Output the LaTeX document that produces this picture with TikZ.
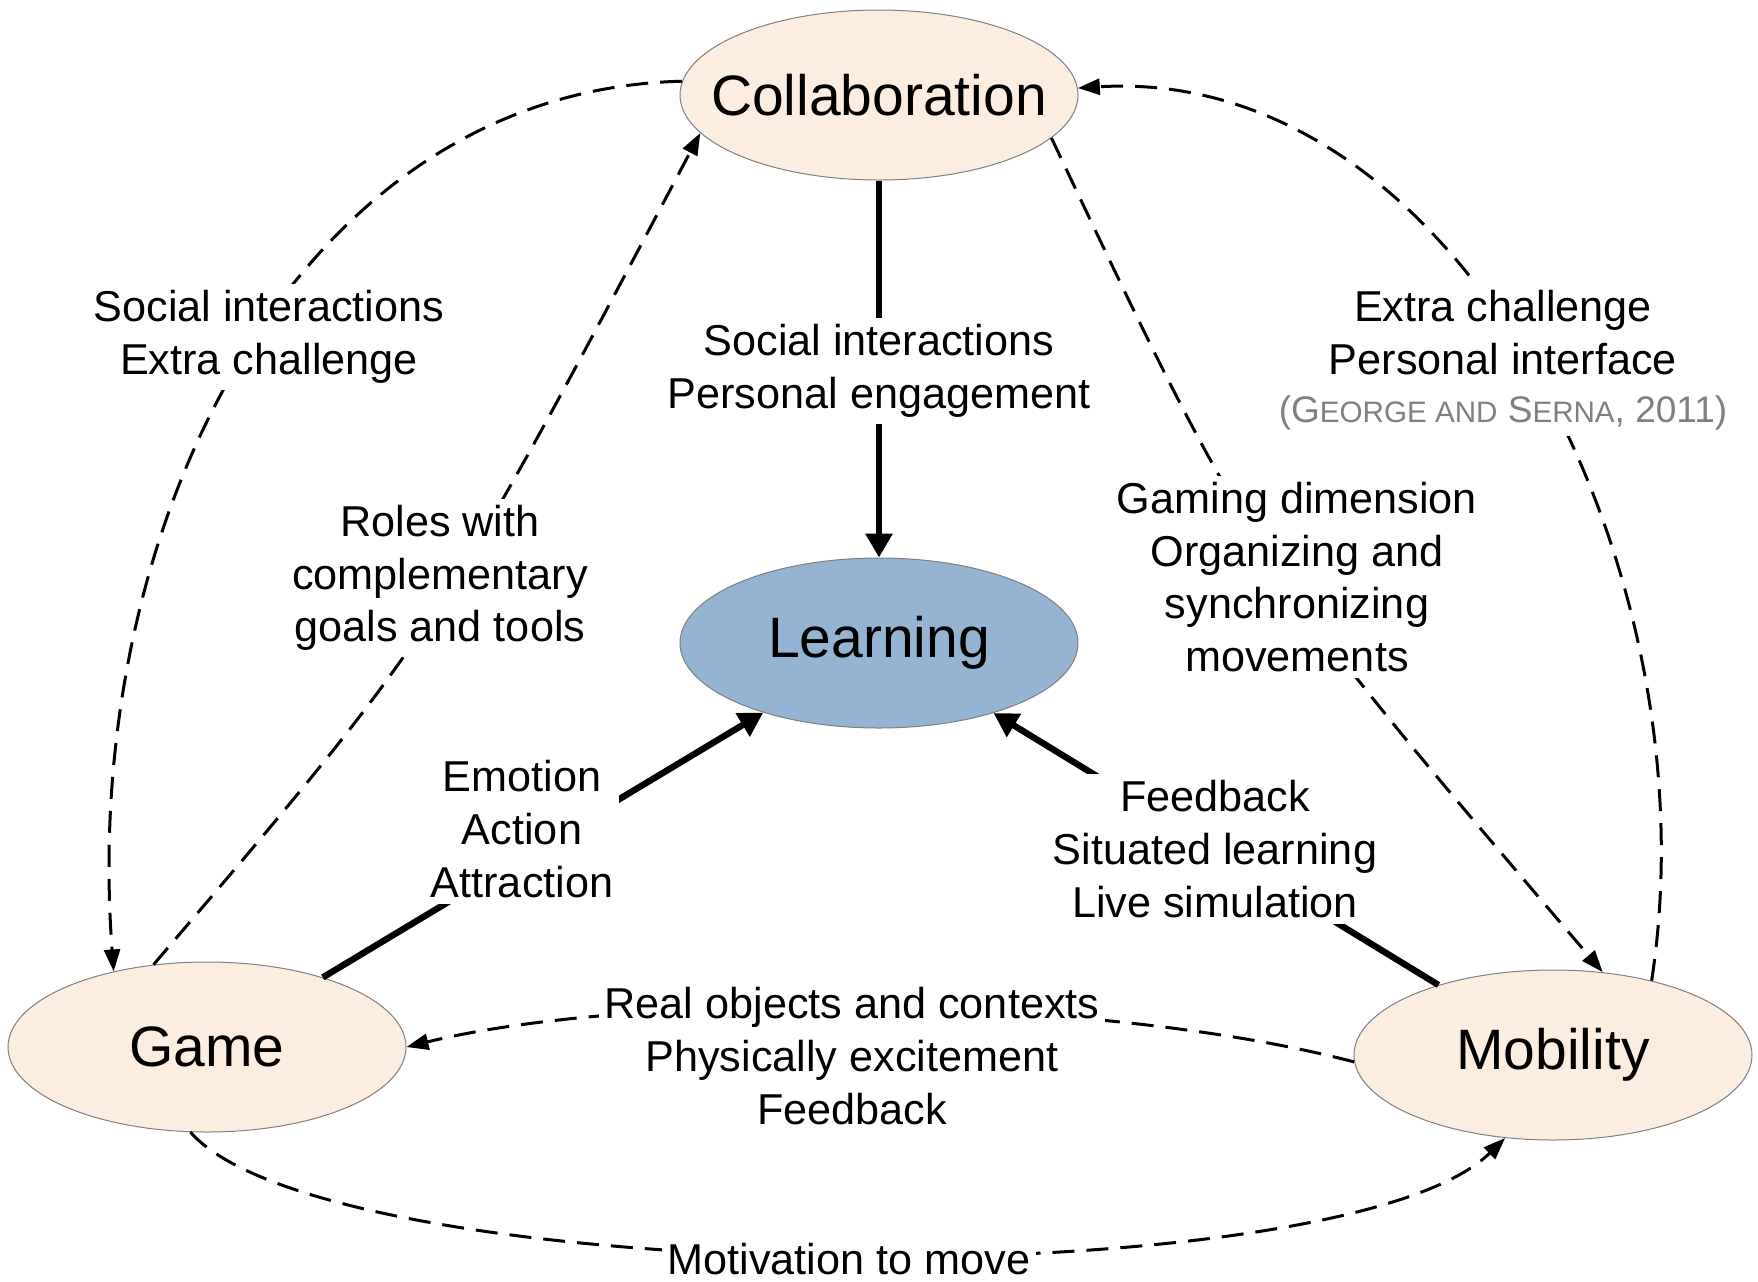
\documentclass[tikz,border=0pt]{standalone}
\usepackage{fontspec}
\setmainfont{Liberation Sans}
\usetikzlibrary{arrows.meta}
\usetikzlibrary{shapes.geometric}
\definecolor{mpeach}{RGB}{252,237,225}
\definecolor{mblue}{RGB}{149,179,211}
\definecolor{mgray}{RGB}{128,128,128}
\tikzset{topic/.style = {ellipse, draw=mgray, line width=0.5pt, fill=mpeach,
                         minimum width=199pt, minimum height=85pt, inner sep=0pt,
                         font=\fontsize{28.5}{34}\selectfont},
         note/.style = {fill=white, inner sep=3pt, align=center,
                        font=\fontsize{21.6}{26.4}\selectfont},
         weak/.style = {line width=1.5pt, dash pattern=on 11pt off 6pt,
                        -{Triangle[length=11pt,width=8pt]}},
         strong/.style = {line width=3.2pt, -{Triangle[length=12pt,width=13pt]}}}
\newcommand{\fsc}{\fontsize{14.8}{26.4}\selectfont}

\begin{document}
\begin{tikzpicture}[x=0.5pt,y=-0.5pt]
    \useasboundingbox (0, 0) rectangle (1758, 1281);
    \node [topic, inner xsep=-15pt] (collab) at (879, 95) {Collaboration};
    \node [topic, fill=mblue] (learn) at (879, 643) {Learning};
    \node [topic] (game) at (207, 1047) {Game};
    \node [topic] (mob) at (1553, 1055) {Mobility};
    \draw [strong] (collab) -- (learn);
    \draw [strong] (game) -- (learn);
    \draw [strong] (mob) -- (learn);
    \draw [weak] (collab.176) .. controls (300, 90) and (80, 520) .. (game.141);
    \draw [weak] (game.123) .. controls (434, 636) and (434, 636) .. (collab.192);
    \draw [weak] (collab.-14) .. controls (1252, 561) and (1252, 561) .. (mob.59);
    \draw [weak] (mob.37) .. controls (1715, 570) and (1460, 65) .. (collab.2);
    \draw [weak] (mob.182) .. controls (1100, 995) and (640, 990) .. (game.east);
    \draw [weak] (game.259) .. controls (330, 1290) and (1340, 1300) .. (mob.240);
    \node [note] (lsocial) at (269, 337) {Social interactions\\Extra challenge};
    \node [note] (lroles) at (440, 578) {Roles with\\complementary\\goals and tools};
    \node [note] (lengage) at (879, 371) {Social interactions\\Personal engagement};
    \node [note] (lextra) at (1503, 360) {Extra challenge\\Personal interface\\[-2.5pt]
      {\color{mgray}\fontsize{18.5}{26.4}\selectfont (G{\fsc EORGE AND} S{\fsc ERNA}, 2011)}};
    \node [note] (lgaming) at (1297, 577) {Gaming dimension\\Organizing and\\synchronizing\\movements};
    \node [note] (lemotion) at (522, 829) {Emotion\\Action\\Attraction};
    \node [note] (lfeedback) at (1215, 849) {Feedback\\Situated learning\\Live simulation};
    \node [note] (lreal) at (852, 1056) {Real objects and contexts\\Physically excitement\\Feedback};
    \node [note] (lmotiv) at (849, 1259) {Motivation to move};
\end{tikzpicture}
\end{document}
